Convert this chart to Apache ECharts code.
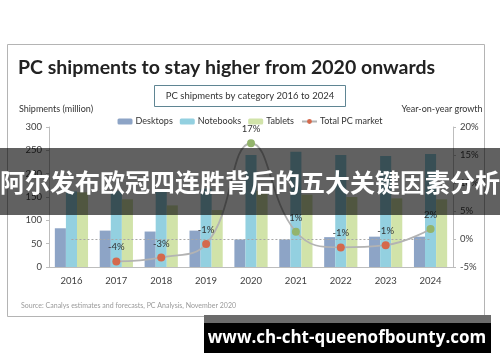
<!DOCTYPE html>
<html>
<head>
<meta charset="utf-8">
<script src="https://cdn.jsdelivr.net/npm/echarts@6/dist/echarts.min.js"></script>
<style>
html,body{margin:0;padding:0;background:#fff;}
#chart{width:500px;height:362px;}
</style>
</head>
<body>
<div id="chart"></div>
<script>
var categories = ['2016','2017','2018','2019','2020','2021','2022','2023','2024'];
var desktops  = [83, 78, 76, 78, 59, 59, 64, 65, 65];
var notebooks = [162, 163, 165, 168, 240, 247, 240, 238, 242];
var tablets   = [160, 145, 132, 122, 163, 155, 150, 147, 145];
var growth    = [null, -4, -3.3, -0.9, 17.1, 1.3, -1.5, -1.1, 1.8];
var leftTicks = [0, 50, 100, 150, 200, 250, 300];
var rightTicks = [-5, 0, 5, 10, 15, 20];

var FONT = 'Lato, "Noto Sans", sans-serif';
var chart = echarts.init(document.getElementById('chart'), null, {renderer:'canvas'});

var growthData = growth.map(function(v){
  if (v === null) return null;
  return {value: v, itemStyle: {color: v >= 0 ? '#93b46c' : '#d4694c'}};
});

var option = {
  backgroundColor: '#fff',
  textStyle: {fontFamily: FONT},
  animation: false,
  title: [
    {text: 'PC shipments to stay higher from 2020 onwards', left: 13, top: 53,
     textStyle: {fontSize: 19.5, fontWeight: 'bold', color: '#222', fontFamily: FONT}},
    {text: 'PC shipments by category 2016 to 2024', left: 'center', top: 85,
     borderColor: '#5f8593', borderWidth: 1, padding: [6, 12, 6, 12],
     textStyle: {fontSize: 9.5, fontWeight: 'normal', color: '#333', fontFamily: FONT}},
    {text: 'Source: Canalys estimates and forecasts, PC Analysis, November 2020', left: 16, top: 297,
     textStyle: {fontSize: 7, fontWeight: 'normal', color: '#9a9a9a', fontFamily: FONT}}
  ],
  legend: {
    top: 112, left: 'center',
    itemWidth: 15, itemHeight: 6, itemGap: 7,
    textStyle: {fontSize: 9, color: '#333', fontFamily: FONT, padding: [0,0,0,-2]},
    data: ['Desktops', 'Notebooks', 'Tablets', 'Total PC market']
  },
  grid: {left: 49, right: 47, top: 127, bottom: 95},
  xAxis: {
    type: 'category', data: categories,
    axisLine: {lineStyle: {color: '#bdbdbd'}},
    axisTick: {show: false},
    axisLabel: {color: '#404040', fontSize: 9.5, margin: 9, fontFamily: FONT}
  },
  yAxis: [
    {type: 'value', min: leftTicks[0], max: leftTicks[leftTicks.length-1], interval: 50,
     name: 'Shipments (million)', nameLocation: 'end', nameGap: 13,
     nameTextStyle: {fontSize: 9, color: '#333', padding: [0,0,0,14], fontFamily: FONT},
     axisLine: {show: true, lineStyle: {color: '#bdbdbd'}},
     axisTick: {show: true, length: 3, lineStyle: {color: '#bdbdbd'}},
     splitLine: {show: false},
     axisLabel: {color: '#404040', fontSize: 9.5, margin: 7, fontFamily: FONT}},
    {type: 'value', min: rightTicks[0], max: rightTicks[rightTicks.length-1], interval: 5,
     name: 'Year-on-year growth', nameLocation: 'end', nameGap: 13,
     nameTextStyle: {fontSize: 9, color: '#333', padding: [0,22,0,0], fontFamily: FONT},
     axisLine: {show: true, lineStyle: {color: '#bdbdbd'}},
     axisTick: {show: true, length: 3, lineStyle: {color: '#bdbdbd'}},
     splitLine: {show: false},
     axisLabel: {color: '#404040', fontSize: 9.5, margin: 7, formatter: '{value}%', fontFamily: FONT}}
  ],
  series: [
    {name: 'Desktops', type: 'bar', data: desktops, barGap: '0%', barCategoryGap: '26%',
     itemStyle: {color: '#8da4c6'}},
    {name: 'Notebooks', type: 'bar', data: notebooks, itemStyle: {color: '#93d0e0'}},
    {name: 'Tablets', type: 'bar', data: tablets, itemStyle: {color: '#d1e3a9'}},
    {name: 'Total PC market', type: 'line', yAxisIndex: 1, data: growthData, smooth: 0.45,
     connectNulls: true,
     symbol: 'circle', symbolSize: 8,
     itemStyle: {color: '#d4694c'},
     lineStyle: {color: '#b3b3b3', width: 1.8},
     label: {show: true, position: 'top', distance: 5, color: '#333', fontSize: 9.5, fontFamily: FONT,
       formatter: function(p){ return Math.round(p.value) + '%'; }},
     markLine: {silent: true, symbol: 'none', label: {show: false},
       lineStyle: {color: '#a8a8a8', type: [2, 2], width: 1},
       data: [[{coord: ['2016', 0]}, {coord: ['2024', 0]}]]},
     z: 5}
  ],
  graphic: [
    {type: 'rect', shape: {x: 7.5, y: 44.5, width: 477, height: 272}, silent: true,
     style: {fill: 'none', stroke: '#b4b4b4', lineWidth: 1}, z: 0},
    {type: 'rect', shape: {x: 0, y: 148, width: 500, height: 67}, silent: true,
     style: {fill: 'rgba(0,0,0,0.62)'}, z: 100},
    {type: 'text', x: 250, y: 182, silent: true, z: 101,
     style: {text: '阿尔发布欧冠四连胜背后的五大关键因素分析', fill: '#fff',
       font: 'bold 25px "Noto Sans CJK SC", sans-serif', textAlign: 'center', textVerticalAlign: 'middle'}},
    {type: 'rect', shape: {x: 204, y: 315, width: 287, height: 8}, silent: true,
     style: {fill: '#6b6b6b'}, z: 100},
    {type: 'rect', shape: {x: 204, y: 323, width: 287, height: 30}, silent: true,
     style: {fill: '#000'}, z: 100},
    {type: 'text', x: 347, y: 338, silent: true, z: 101,
     style: {text: 'www.ch-cht-queenofbounty.com', fill: '#fff',
       font: 'bold 17px "Open Sans", sans-serif', textAlign: 'center', textVerticalAlign: 'middle'}}
  ]
};
chart.setOption(option);
</script>
</body>
</html>
